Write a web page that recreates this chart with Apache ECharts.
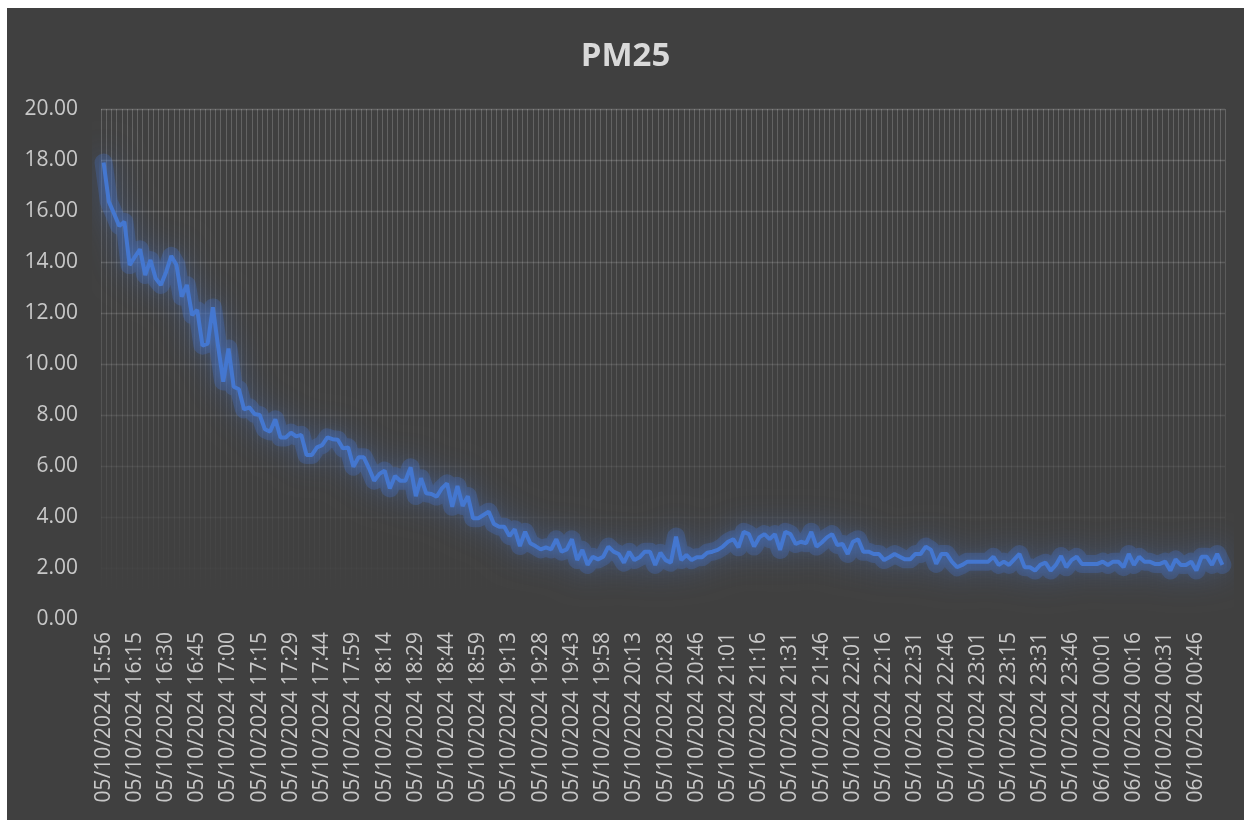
<!DOCTYPE html>
<html>
<head>
<meta charset="utf-8">
<title>PM25</title>
<script src="https://cdn.jsdelivr.net/npm/echarts@6/dist/echarts.min.js"></script>
<style>
    html, body { margin: 0; padding: 0; background: #ffffff; }
    #chart {
        position: absolute;
        left: 7px;
        top: 8px;
        width: 1237px;
        height: 812px;
        background: #404040;
    }
</style>
</head>
<body>
<div id="chart"></div>
<script>
// tick labels shown on the x axis (every 6th reading)
const tickLabels = [
    '05/10/2024 15:56', '05/10/2024 16:15', '05/10/2024 16:30', '05/10/2024 16:45',
    '05/10/2024 17:00', '05/10/2024 17:15', '05/10/2024 17:29', '05/10/2024 17:44',
    '05/10/2024 17:59', '05/10/2024 18:14', '05/10/2024 18:29', '05/10/2024 18:44',
    '05/10/2024 18:59', '05/10/2024 19:13', '05/10/2024 19:28', '05/10/2024 19:43',
    '05/10/2024 19:58', '05/10/2024 20:13', '05/10/2024 20:28', '05/10/2024 20:46',
    '05/10/2024 21:01', '05/10/2024 21:16', '05/10/2024 21:31', '05/10/2024 21:46',
    '05/10/2024 22:01', '05/10/2024 22:16', '05/10/2024 22:31', '05/10/2024 22:46',
    '05/10/2024 23:01', '05/10/2024 23:15', '05/10/2024 23:31', '05/10/2024 23:46',
    '06/10/2024 00:01', '06/10/2024 00:16', '06/10/2024 00:31', '06/10/2024 00:46'
];
const labelStep = 6;

// PM2.5 readings
const pm25 = [
    17.90, 16.37, 15.90, 15.41, 15.58, 13.88, 14.20, 14.50, 13.49, 14.08,
    13.36, 13.10, 13.60, 14.24, 13.88, 12.64, 13.10, 11.92, 12.12, 10.72,
    10.80, 12.22, 10.70, 9.31, 10.61, 9.11, 9.01, 8.22, 8.30, 8.04,
    8.00, 7.44, 7.35, 7.83, 7.12, 7.12, 7.31, 7.16, 7.22, 6.43,
    6.43, 6.73, 6.82, 7.12, 7.05, 7.03, 6.69, 6.73, 5.97, 6.34,
    6.34, 5.91, 5.42, 5.69, 5.82, 5.12, 5.61, 5.42, 5.42, 5.95,
    4.82, 5.52, 4.93, 4.90, 4.80, 5.12, 5.32, 4.40, 5.22, 4.43,
    4.82, 3.95, 3.95, 4.08, 4.21, 3.73, 3.62, 3.62, 3.25, 3.52,
    2.86, 3.42, 2.97, 2.86, 2.73, 2.81, 2.73, 3.13, 2.64, 2.73,
    3.13, 2.31, 2.71, 2.12, 2.44, 2.34, 2.44, 2.84, 2.64, 2.55,
    2.21, 2.64, 2.31, 2.42, 2.64, 2.64, 2.12, 2.60, 2.31, 2.21,
    3.23, 2.31, 2.51, 2.31, 2.42, 2.42, 2.60, 2.64, 2.71, 2.84,
    3.03, 3.13, 2.81, 3.42, 3.33, 2.84, 3.20, 3.33, 3.13, 3.33,
    2.71, 3.42, 3.33, 2.94, 3.03, 2.97, 3.42, 2.84, 3.00, 3.20,
    3.33, 2.90, 2.94, 2.55, 3.03, 3.13, 2.64, 2.64, 2.55, 2.55,
    2.31, 2.42, 2.55, 2.44, 2.34, 2.34, 2.55, 2.55, 2.84, 2.71,
    2.16, 2.55, 2.55, 2.25, 2.03, 2.12, 2.25, 2.25, 2.25, 2.25,
    2.25, 2.44, 2.12, 2.25, 2.12, 2.34, 2.55, 2.03, 2.03, 1.90,
    2.12, 2.21, 1.90, 2.12, 2.47, 2.03, 2.31, 2.44, 2.16, 2.16,
    2.16, 2.16, 2.25, 2.12, 2.25, 2.25, 2.03, 2.55, 2.12, 2.44,
    2.25, 2.25, 2.16, 2.16, 2.25, 1.90, 2.34, 2.12, 2.12, 2.25,
    1.90, 2.44, 2.44, 2.12, 2.55, 2.12
];

// only every 6th category carries a visible label
const categories = pm25.map((v, i) => (i % labelStep === 0 ? tickLabels[i / labelStep] : ''));

const gridTop = 101;
const gridHeight = 510;
const textColor = '#c8c8c8';
const fontFamily = '"Open Sans", "Liberation Sans", sans-serif';

// gridlines fade out towards the bottom of the plot
const gridColor = new echarts.graphic.LinearGradient(0, gridTop, 0, gridTop + gridHeight, [
    { offset: 0, color: 'rgba(255, 255, 255, 0.19)' },
    { offset: 0.55, color: 'rgba(255, 255, 255, 0.11)' },
    { offset: 0.95, color: 'rgba(255, 255, 255, 0.0)' }
], true);

const chart = echarts.init(document.getElementById('chart'), null, { renderer: 'canvas' });

const option = {
    backgroundColor: '#404040',
    animation: false,
    title: {
        text: 'PM25',
        left: 'center',
        top: 27,
        textStyle: {
            color: '#d9d9d9',
            fontSize: 33,
            fontWeight: 'bold',
            fontFamily: fontFamily
        }
    },
    grid: {
        left: 94,
        top: gridTop,
        width: 1124,
        height: gridHeight
    },
    xAxis: {
        type: 'category',
        boundaryGap: true,
        data: categories,
        axisLine: { show: false },
        axisTick: { show: false },
        axisLabel: {
            rotate: 90,
            interval: labelStep - 1,
            margin: 13,
            color: textColor,
            fontSize: 21,
            fontFamily: fontFamily
        },
        splitLine: {
            show: true,
            interval: 0,
            lineStyle: { color: gridColor, width: 1 }
        }
    },
    yAxis: {
        type: 'value',
        min: 0,
        max: 20,
        interval: 2,
        axisLine: { show: false },
        axisTick: { show: false },
        axisLabel: {
            margin: 23,
            color: textColor,
            fontSize: 21,
            fontFamily: fontFamily,
            formatter: v => v.toFixed(2)
        },
        splitLine: {
            lineStyle: { color: gridColor, width: 1.3 }
        }
    },
    series: [
        {
            // soft glow underneath the line
            name: 'glow',
            type: 'line',
            data: pm25,
            symbol: 'none',
            silent: true,
            z: 1,
            lineStyle: {
                color: 'rgba(68, 114, 196, 0.3)',
                width: 18,
                cap: 'round',
                join: 'round',
                shadowBlur: 30,
                shadowColor: 'rgba(68, 114, 196, 1)'
            }
        },
        {
            name: 'PM25',
            type: 'line',
            data: pm25,
            symbol: 'none',
            z: 2,
            lineStyle: {
                color: '#4477d0',
                width: 4,
                shadowBlur: 12,
                shadowColor: 'rgba(68, 114, 196, 0.9)'
            }
        }
    ]
};

chart.setOption(option);
</script>
</body>
</html>
